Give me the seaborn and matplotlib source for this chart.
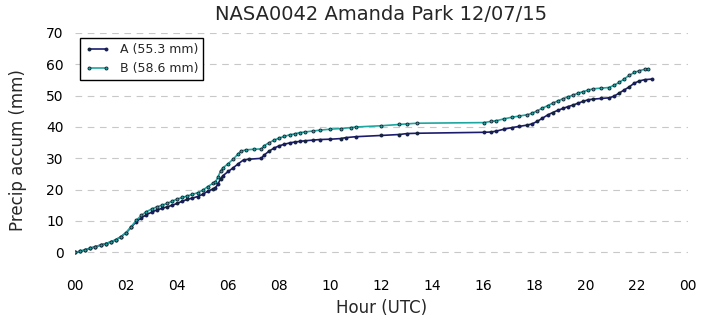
import matplotlib
matplotlib.use("Agg")
import matplotlib.pyplot as plt
from matplotlib.lines import Line2D
import seaborn as sns
import pandas as pd

# Cumulative precipitation for two gauges at site NASA0042 (hours UTC, mm)
hours_a = [0.0, 0.2, 0.4, 0.6, 0.8, 1.0, 1.2, 1.4, 1.6, 1.8, 2.0, 2.2, 2.4, 2.6, 2.8,
           3.0, 3.2, 3.4, 3.6, 3.8, 4.0, 4.2, 4.4, 4.6, 4.8, 5.0, 5.2, 5.4, 5.5, 5.6,
           5.7, 5.8, 6.0, 6.2, 6.4, 6.6, 6.8, 7.3, 7.4, 7.6, 7.8, 8.0, 8.2, 8.4, 8.6,
           8.8, 9.0, 9.3, 9.6, 10.0, 10.4, 10.6, 11.0, 12.0, 12.7, 13.0, 13.4, 16.0,
           16.3, 16.5, 16.8, 17.1, 17.4, 17.7, 17.9, 18.1, 18.3, 18.5, 18.7, 18.9,
           19.1, 19.3, 19.5, 19.7, 19.9, 20.1, 20.3, 20.6, 20.9, 21.1, 21.3, 21.5,
           21.7, 21.9, 22.1, 22.3, 22.6]
accum_a = [0.0, 0.3, 0.8, 1.3, 1.8, 2.3, 2.8, 3.3, 4.0, 5.0, 6.2, 8.0, 9.8, 11.0, 12.0,
           12.8, 13.5, 14.0, 14.5, 15.0, 15.6, 16.3, 16.9, 17.3, 17.8, 18.5, 19.5, 20.2,
           20.6, 21.8, 23.5, 24.5, 25.8, 27.0, 28.3, 29.5, 29.7, 30.0, 31.0, 32.3, 33.3,
           34.0, 34.5, 34.9, 35.2, 35.4, 35.6, 35.8, 36.0, 36.1, 36.3, 36.6, 36.9, 37.3,
           37.6, 37.9, 38.0, 38.3, 38.4, 38.7, 39.3, 39.8, 40.2, 40.6, 41.0, 41.8, 42.8,
           43.8, 44.6, 45.3, 45.9, 46.5, 47.0, 47.6, 48.2, 48.7, 48.9, 49.1, 49.3, 49.8,
           50.8, 51.8, 52.8, 54.0, 54.7, 55.1, 55.3]

hours_b = [0.0, 0.2, 0.4, 0.6, 0.8, 1.0, 1.2, 1.4, 1.6, 1.8, 2.0, 2.2, 2.4, 2.6, 2.8,
           3.0, 3.2, 3.4, 3.6, 3.8, 4.0, 4.2, 4.4, 4.6, 4.8, 5.0, 5.2, 5.4, 5.5, 5.6,
           5.7, 5.8, 6.0, 6.2, 6.4, 6.5, 6.7, 7.0, 7.3, 7.4, 7.6, 7.8, 8.0, 8.2, 8.4,
           8.6, 8.8, 9.0, 9.3, 9.6, 10.0, 10.4, 10.8, 11.0, 12.0, 12.7, 13.0, 13.4,
           16.0, 16.3, 16.5, 16.8, 17.1, 17.4, 17.7, 17.9, 18.1, 18.3, 18.5, 18.7,
           18.9, 19.1, 19.3, 19.5, 19.7, 19.9, 20.1, 20.3, 20.6, 20.9, 21.1, 21.3,
           21.5, 21.7, 21.9, 22.1, 22.3, 22.45]
accum_b = [0.0, 0.3, 0.8, 1.3, 1.8, 2.3, 2.8, 3.3, 4.0, 5.0, 6.3, 8.2, 10.2, 11.8, 13.0,
           13.8, 14.5, 15.0, 15.6, 16.3, 17.0, 17.5, 18.0, 18.5, 19.0, 19.8, 21.0, 22.0,
           22.5, 24.0, 26.0, 27.0, 28.3, 29.8, 31.5, 32.3, 32.7, 32.9, 33.0, 34.0, 35.0,
           35.8, 36.5, 37.0, 37.5, 37.8, 38.2, 38.4, 38.7, 39.0, 39.3, 39.5, 39.8, 40.0,
           40.4, 40.8, 41.0, 41.2, 41.4, 41.8, 42.0, 42.6, 43.1, 43.5, 43.9, 44.4, 45.2,
           46.0, 46.8, 47.6, 48.3, 49.0, 49.6, 50.2, 50.8, 51.3, 51.8, 52.2, 52.4, 52.6,
           53.3, 54.2, 55.3, 56.5, 57.4, 58.0, 58.4, 58.6]

labels = ["A (55.3 mm)", "B (58.6 mm)"]
colors = ["#1c1c6e", "#1ea6a0"]
x_ticks = list(range(0, 25, 2))
x_tick_labels = ["%02d" % (h % 24) for h in x_ticks]

df = pd.concat([
    pd.DataFrame({"hour": hours_a, "accum": accum_a, "gauge": labels[0]}),
    pd.DataFrame({"hour": hours_b, "accum": accum_b, "gauge": labels[1]}),
])

sns.set_style("whitegrid", {"grid.linestyle": (0, (6, 5)), "grid.color": "#c8c8c8"})
plt.rcParams["font.family"] = ["DejaVu Sans"]

fig = plt.figure(figsize=(7.06, 3.26), dpi=100)
ax = fig.add_axes([0.1062, 0.178, 0.8683, 0.7208])

marker_kw = dict(marker="o", markersize=2.2, markeredgecolor="#102030",
                 markeredgewidth=0.6, linewidth=1.2)
sns.lineplot(data=df, x="hour", y="accum", hue="gauge", palette=colors,
             sort=False, estimator=None, legend=False, ax=ax, **marker_kw)

ax.set_xlim(0, 24)
ax.set_ylim(-5, 70)
ax.set_xticks(x_ticks)
ax.set_xticklabels(x_tick_labels)
ax.set_yticks(range(0, 71, 10))
ax.tick_params(axis="both", length=0, labelsize=10, colors="black", pad=8)
ax.grid(axis="x", visible=False)
ax.grid(axis="y", visible=True)
for s in ax.spines.values():
    s.set_visible(False)

ax.set_title("NASA0042 Amanda Park 12/07/15", fontsize=14, pad=9)
ax.set_xlabel("Hour (UTC)", fontsize=12, labelpad=4)
ax.set_ylabel("Precip accum (mm)", fontsize=12, labelpad=14)

handles = [Line2D([0], [0], color=c, **marker_kw) for c in colors]
leg = ax.legend(handles, labels, loc="upper left", fontsize=9, frameon=True,
                fancybox=False, framealpha=1, edgecolor="black",
                borderaxespad=0.4, handlelength=2.0, numpoints=2)
leg.get_frame().set_linewidth(1.0)

fig.savefig("out.png", dpi=100)
